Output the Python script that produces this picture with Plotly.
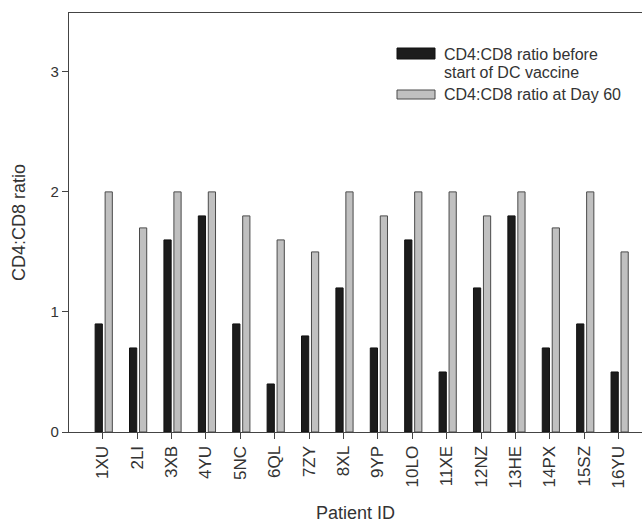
import plotly.graph_objects as go

patients = ["1XU", "2LI", "3XB", "4YU", "5NC", "6QL", "7ZY", "8XL",
            "9YP", "10LO", "11XE", "12NZ", "13HE", "14PX", "15SZ", "16YU"]
before = [0.9, 0.7, 1.6, 1.8, 0.9, 0.4, 0.8, 1.2, 0.7, 1.6, 0.5, 1.2, 1.8, 0.7, 0.9, 0.5]
day60 = [2.0, 1.7, 2.0, 2.0, 1.8, 1.6, 1.5, 2.0, 1.8, 2.0, 2.0, 1.8, 2.0, 1.7, 2.0, 1.5]
name_before_lines = ["CD4:CD8 ratio before", "start of DC vaccine"]
name_day60_lines = ["CD4:CD8 ratio at Day 60"]
y_ticks = [0, 1, 2, 3]

FONT = "Liberation Sans, Arial, sans-serif"
TXT = "#333333"
BLACK = "#1c1c1c"
GRAY = "#c0c0c0"
EDGE = "#4a4a4a"
W, H = 642, 523
L, R, T, B = 69, 0, 13, 91
PW, PH = W - L - R, H - T - B

fig = go.Figure()
fig.add_trace(go.Bar(x=patients, y=before, name=" ".join(name_before_lines), width=0.21, offset=-0.22,
                     marker=dict(color=BLACK, line=dict(color="#111111", width=1)),
                     showlegend=False))
fig.add_trace(go.Bar(x=patients, y=day60, name=" ".join(name_day60_lines), width=0.21, offset=0.07,
                     marker=dict(color=GRAY, line=dict(color=EDGE, width=1)),
                     showlegend=False))


def px_x(x):
    return (x - L) / PW


def px_y(y):
    return (H - B - y) / PH


shapes = []
annotations = []
# custom legend: (fill, edge, lines, swatch top px, swatch bottom px, first text line center px)
leg = [
    (BLACK, "#111111", name_before_lines, 48, 59, 54),
    (GRAY, EDGE, name_day60_lines, 90, 99, 95),
]
for fill, edge, lines, y0, y1, yt in leg:
    shapes.append(dict(type="rect", xref="paper", yref="paper",
                       x0=px_x(397), x1=px_x(435), y0=px_y(y1), y1=px_y(y0),
                       fillcolor=fill, line=dict(color=edge, width=1)))
    for i, line in enumerate(lines):
        annotations.append(dict(xref="paper", yref="paper", x=px_x(442),
                                y=px_y(yt + 18 * i), xanchor="left", yanchor="middle",
                                text=line, showarrow=False, align="left",
                                font=dict(family=FONT, size=16, color=TXT)))

fig.update_layout(
    width=W, height=H,
    margin=dict(l=L, r=R, t=T, b=B),
    paper_bgcolor="white", plot_bgcolor="white",
    font=dict(family=FONT, size=14, color=TXT),
    barmode="overlay",
    shapes=shapes, annotations=annotations,
    xaxis=dict(
        type="category", range=[-0.98, 15.68],
        showline=True, linecolor="#444444", linewidth=1.2, mirror=True,
        ticks="outside", ticklen=6, tickcolor="#444444", tickangle=-90,
        showgrid=False, zeroline=False,
        tickfont=dict(family=FONT, size=17, color=TXT),
        title=dict(text="Patient ID", font=dict(family=FONT, size=18, color=TXT), standoff=20),
    ),
    yaxis=dict(
        range=[0, 3.49], tickvals=y_ticks,
        showline=True, linecolor="#444444", linewidth=1.2,
        ticks="outside", ticklen=6, tickcolor="#444444",
        showgrid=False, zeroline=False,
        tickfont=dict(family=FONT, size=15, color=TXT),
        title=dict(text="CD4:CD8 ratio", font=dict(family=FONT, size=18, color=TXT), standoff=20),
    ),
)

fig.write_html("out.html")
